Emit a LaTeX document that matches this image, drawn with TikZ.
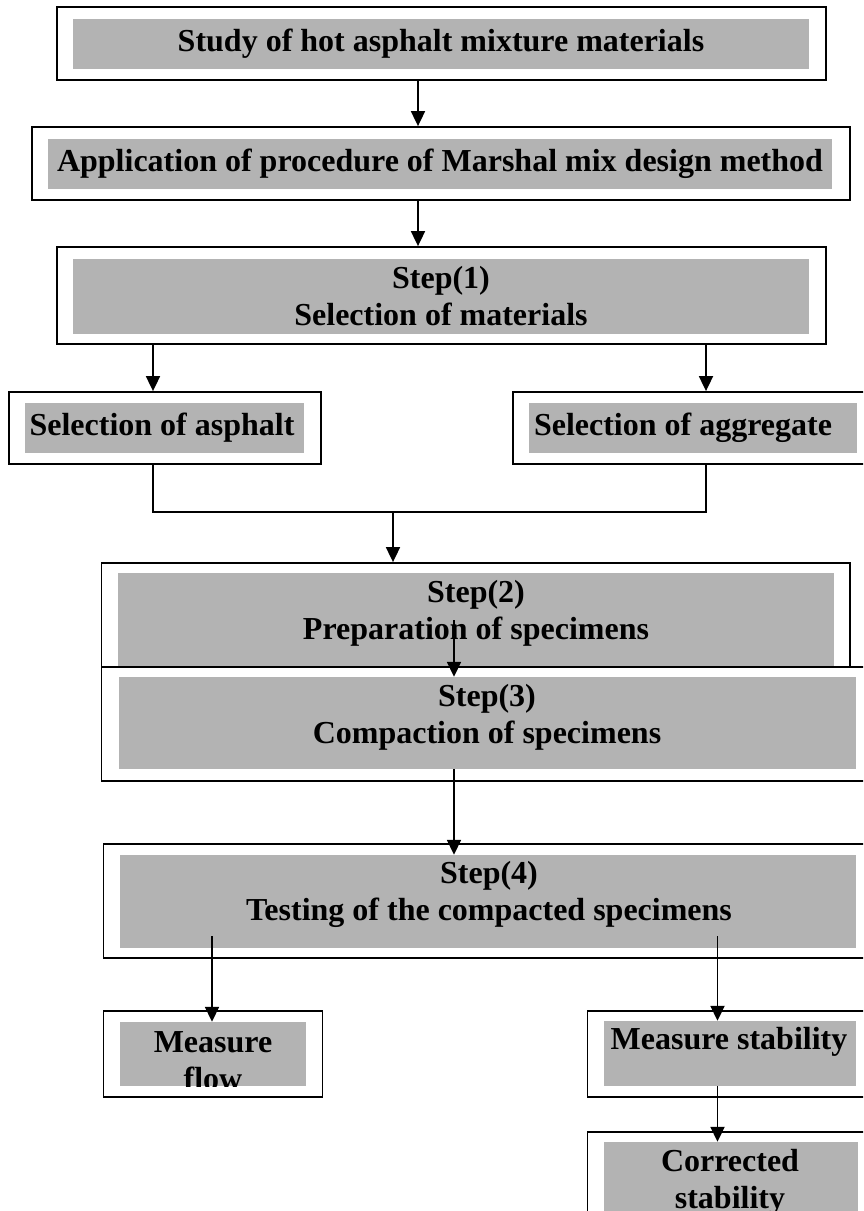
\documentclass[tikz,border=0pt]{standalone}
\usepackage{fontspec}
\setmainfont{Liberation Serif}
\usetikzlibrary{arrows.meta,calc}
\definecolor{boxgray}{RGB}{179,179,179}
\begin{document}
\begin{tikzpicture}[x=1pt,y=-1pt,
  outerbox/.style={draw, line width=1.8pt, fill=white, inner sep=0pt, minimum width=#1},
  graybox/.style={fill=boxgray, inner sep=0pt, minimum width=#1},
  txt/.style={font=\fontsize{32}{37}\selectfont\bfseries, align=center, inner sep=0pt},
  arr/.style={-{Triangle[length=15pt,width=14pt]}, line width=1.8pt},
  conn/.style={line width=1.8pt}]
\useasboundingbox (0,0) rectangle (863,1211);
\clip (0,0) rectangle (863,1211);
% columns
\coordinate (c1) at (418,0);
\coordinate (cL) at (153,0);
\coordinate (cR) at (706,0);
\coordinate (cM) at (393,0);
\coordinate (cS) at (454,0);
\coordinate (cF) at (212,0);
\coordinate (cT) at (717.5,0);
\coordinate (m) at (0,512);
% box 1
\node[outerbox=769pt, minimum height=73pt] (b1) at (441.5,43.5) {};
\node[graybox=736pt, minimum height=50pt] (b1in) at (441,44) {};
\node[txt] (t1) at (441,44) {Study of hot asphalt mixture materials};
% box 2
\node[outerbox=818pt, minimum height=73pt] (b2) at (441,163.5) {};
\node[graybox=784pt, minimum height=50pt] (b2in) at (440,164) {};
\node[txt] (t2) at (440,164) {Application of procedure of Marshal mix design method};
% box 3
\node[outerbox=769pt, minimum height=97pt] (b3) at (441.5,295.5) {};
\node[graybox=736pt, minimum height=75pt] (b3in) at (441,296.5) {};
\node[txt] (t3) at (441,296.5) {Step(1)\\Selection of materials};
% asphalt / aggregate
\node[outerbox=312pt, minimum height=72pt] (asph) at (165,428) {};
\node[graybox=279pt, minimum height=50pt] (asphin) at (164.5,428) {};
\node[txt] (tasph) at (162,428) {Selection of asphalt};
\node[outerbox=362pt, minimum height=72pt] (aggr) at (694,428) {};
\node[graybox=328pt, minimum height=50pt] (aggrin) at (693,428) {};
\node[txt] (taggr) at (683,428) {Selection of aggregate};
% step 2
\node[outerbox=748.5pt, minimum height=104pt] (s2) at (475.75,615) {};
\node[graybox=715.5pt, minimum height=94pt] (s2in) at (475.75,620) {};
\node[txt] (ts2) at (476,613) {Step(2)\\Preparation of specimens};
% step 3
\node[outerbox=773.5pt, minimum height=114pt] (s3) at (488.25,724) {};
\node[graybox=737pt, minimum height=92pt] (s3in) at (487.5,723) {};
\node[txt] (ts3) at (487,717) {Step(3)\\Compaction of specimens};
% step 4
\node[outerbox=771.5pt, minimum height=114pt] (s4) at (489.25,901) {};
\node[graybox=736pt, minimum height=93pt] (s4in) at (488,901.5) {};
\node[txt] (ts4) at (489,894) {Step(4)\\Testing of the compacted specimens};
% measure flow
\node[outerbox=219pt, minimum height=86pt] (fl) at (213,1054) {};
\node[graybox=186pt, minimum height=64pt] (flin) at (213,1054) {};
\begin{scope}
\clip (flin.north west) rectangle (flin.south east);
\node[txt] (tfl) at (213,1061) {Measure\\flow};
\end{scope}
% measure stability
\node[outerbox=287.5pt, minimum height=86pt] (st) at (731.25,1054) {};
\node[graybox=252.5pt, minimum height=65pt] (stin) at (729.75,1053.5) {};
\node[txt] (tst) at (729,1042) {Measure stability};
% corrected stability
\node[outerbox=287.5pt, minimum height=128pt] (co) at (731.25,1196) {};
\node[graybox=254.5pt, minimum height=108pt] (coin) at (730.75,1196) {};
\node[txt] (tco) at (730,1182) {Corrected\\stability};
% connectors
\draw[arr] (b1.south -| c1) -- (b2.north -| c1);
\draw[arr] (b2.south -| c1) -- (b3.north -| c1);
\draw[arr] (b3.south -| cL) -- (asph.north -| cL);
\draw[arr] (b3.south -| cR) -- (aggr.north -| cR);
\draw[conn] (asph.south -| cL) -- (cL |- m) -- (cR |- m) -- (aggr.south -| cR);
\draw[arr] (m -| cM) -- (s2.north -| cM);
\draw[arr] (s2in.center -| cS) -- (s3in.north -| cS);
\draw[arr] (s3in.south -| cS) -- (s4in.north -| cS);
\draw[arr] ($(s4in.south -| cF)+(0,-12)$) -- (flin.north -| cF);
\draw[arr] ($(s4in.south -| cT)+(0,-12)$) -- (stin.north -| cT);
\draw[arr] (stin.south -| cT) -- (coin.north -| cT);
\end{tikzpicture}
\end{document}
